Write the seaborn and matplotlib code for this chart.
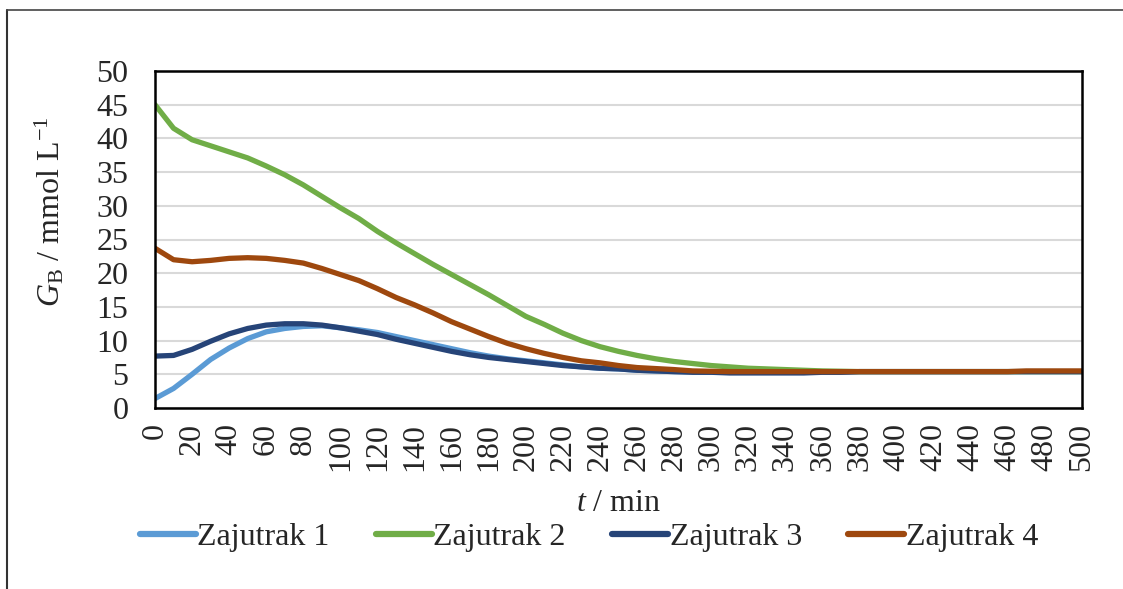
import numpy as np
import pandas as pd
import matplotlib
matplotlib.use("Agg")
import matplotlib.pyplot as plt
import seaborn as sns
from matplotlib.lines import Line2D

t_min = list(range(0, 501, 10))

zajutrak_1 = [1.4, 2.9, 5.0, 7.2, 8.9, 10.3, 11.3, 11.8, 12.1, 12.2,
              11.9, 11.6, 11.2, 10.6, 10.0, 9.4, 8.8, 8.2, 7.7, 7.3,
              7.0, 6.7, 6.4, 6.1, 5.9, 5.8, 5.6, 5.5, 5.4, 5.4,
              5.3, 5.3, 5.3, 5.3, 5.3, 5.3, 5.3, 5.3, 5.4, 5.4,
              5.4, 5.4, 5.4, 5.4, 5.4, 5.4, 5.4, 5.4, 5.4, 5.4, 5.4]
zajutrak_2 = [45.0, 41.5, 39.8, 38.9, 38.0, 37.1, 35.9, 34.6, 33.1, 31.4,
              29.7, 28.1, 26.2, 24.5, 22.9, 21.3, 19.8, 18.3, 16.8, 15.2,
              13.6, 12.4, 11.1, 10.0, 9.1, 8.4, 7.8, 7.3, 6.9, 6.6,
              6.3, 6.1, 5.9, 5.8, 5.7, 5.6, 5.5, 5.45, 5.4, 5.4,
              5.4, 5.4, 5.4, 5.4, 5.4, 5.4, 5.4, 5.4, 5.4, 5.4, 5.4]
zajutrak_3 = [7.7, 7.8, 8.7, 9.9, 11.0, 11.8, 12.3, 12.5, 12.5, 12.3,
              11.9, 11.4, 10.9, 10.2, 9.6, 9.0, 8.4, 7.9, 7.5, 7.2,
              6.9, 6.6, 6.3, 6.1, 5.9, 5.8, 5.6, 5.5, 5.4, 5.3,
              5.3, 5.2, 5.2, 5.2, 5.2, 5.2, 5.3, 5.3, 5.4, 5.4,
              5.4, 5.4, 5.4, 5.4, 5.4, 5.4, 5.4, 5.4, 5.4, 5.4, 5.4]
zajutrak_4 = [23.7, 22.0, 21.7, 21.9, 22.2, 22.3, 22.2, 21.9, 21.5, 20.7,
              19.8, 18.9, 17.7, 16.4, 15.3, 14.1, 12.8, 11.7, 10.6, 9.6,
              8.8, 8.1, 7.5, 7.0, 6.7, 6.3, 6.0, 5.85, 5.7, 5.5,
              5.45, 5.4, 5.4, 5.4, 5.4, 5.4, 5.4, 5.4, 5.4, 5.4,
              5.4, 5.4, 5.4, 5.4, 5.4, 5.4, 5.4, 5.5, 5.5, 5.5, 5.5]

series_names = ["Zajutrak 1", "Zajutrak 2", "Zajutrak 3", "Zajutrak 4"]
series_values = [zajutrak_1, zajutrak_2, zajutrak_3, zajutrak_4]
colors = ["#5B9BD5", "#70AD47", "#264478", "#9E480E"]

y_ticks = list(range(0, 51, 5))
x_label_ticks = list(range(0, 501, 20))

df = pd.concat([pd.DataFrame({"t": t_min, "G": v, "series": n})
                for n, v in zip(series_names, series_values)], ignore_index=True)

sns.set_style("white")
plt.rcParams["font.family"] = ["Liberation Serif", "DejaVu Serif"]
plt.rcParams["mathtext.fontset"] = "custom"
plt.rcParams["mathtext.rm"] = "Liberation Serif"
plt.rcParams["mathtext.it"] = "Liberation Serif:italic"

FS = 23

fig = plt.figure(figsize=(11.23, 5.89), dpi=100)
ax = fig.add_axes([155 / 1123, 1 - 408 / 589, (1082 - 155) / 1123, (408 - 71) / 589])

ax.set_axisbelow(True)
ax.yaxis.grid(True, color="#D9D9D9", lw=1.5)
ax.xaxis.grid(False)

sns.lineplot(data=df, x="t", y="G", hue="series", palette=colors,
             hue_order=series_names, lw=3.8, ax=ax, legend=False)

ax.set_xlim(0, 500)
ax.set_ylim(0, 50)
ax.set_yticks(y_ticks)
ax.set_yticklabels([str(v) for v in y_ticks], fontsize=FS)
ax.set_xticks(t_min, minor=True)
ax.set_xticks(x_label_ticks)
ax.set_xticklabels([str(v) for v in x_label_ticks], rotation=90, fontsize=FS)
ax.tick_params(axis="both", which="both", direction="inout", length=12, width=1.8, color="black")
ax.tick_params(axis="x", which="major", pad=5)
ax.tick_params(axis="y", which="major", pad=13)
for s in ax.spines.values():
    s.set_color("black")
    s.set_linewidth(1.8)

ax.set_xlabel("$t$ / min", fontsize=FS)
ax.xaxis.set_label_coords(0.5, (408 - 489) / 337)
ax.set_ylabel("$G_\\mathrm{B}$ / mmol L$^{-1}$", fontsize=FS)
ax.yaxis.set_label_coords((66 - 155) / 927, (408 - 212) / 337)

handles = [Line2D([0], [0], color=c, lw=4.5, solid_capstyle="round") for c in colors]
fig.legend(handles, series_names, loc="center", bbox_to_anchor=(589 / 1123, 1 - 537 / 589),
           ncol=4, frameon=False, fontsize=FS, handlelength=1.75, handletextpad=0.05,
           columnspacing=1.45)

fig.add_artist(Line2D([7 / 1123, 7 / 1123], [0, 1 - 10 / 589], color="#333333", lw=1.5,
                      transform=fig.transFigure))
fig.add_artist(Line2D([7 / 1123, 1], [1 - 10 / 589, 1 - 10 / 589], color="#444444", lw=1.2,
                      transform=fig.transFigure))

fig.savefig("out.png", dpi=100)
